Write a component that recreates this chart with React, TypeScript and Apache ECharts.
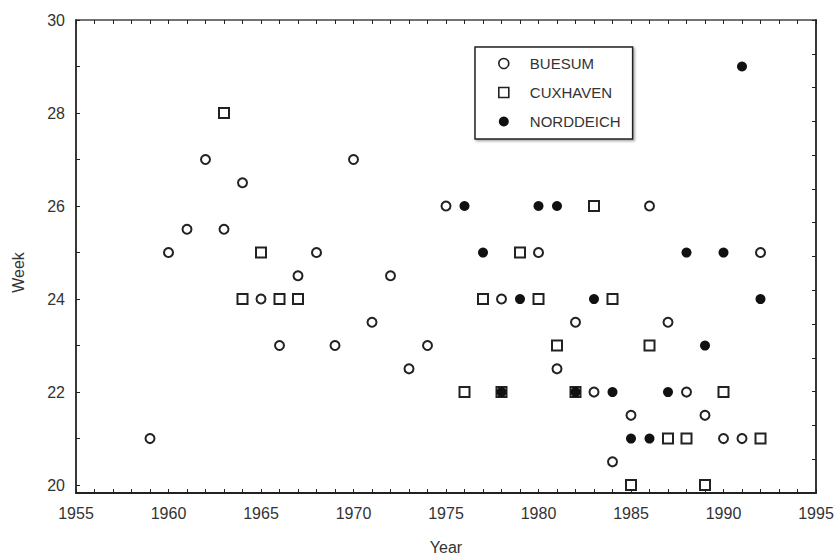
import React, { useEffect, useRef } from "react";
import * as echarts from "echarts";

const FONT = "'Liberation Sans', Arial, sans-serif";

const buesumYears = [1959, 1960, 1961, 1962, 1963, 1964, 1965, 1966, 1967, 1968, 1969, 1970, 1971, 1972, 1973, 1974, 1975, 1978, 1980, 1981, 1982, 1983, 1984, 1985, 1986, 1987, 1988, 1989, 1990, 1991, 1992];
const buesumWeeks = [21, 25, 25.5, 27, 25.5, 26.5, 24, 23, 24.5, 25, 23, 27, 23.5, 24.5, 22.5, 23, 26, 24, 25, 22.5, 23.5, 22, 20.5, 21.5, 26, 23.5, 22, 21.5, 21, 21, 25];

const cuxhavenYears = [1963, 1964, 1965, 1966, 1967, 1976, 1977, 1978, 1979, 1980, 1981, 1982, 1983, 1984, 1985, 1986, 1987, 1988, 1989, 1990, 1992];
const cuxhavenWeeks = [28, 24, 25, 24, 24, 22, 24, 22, 25, 24, 23, 22, 26, 24, 20, 23, 21, 21, 20, 22, 21];

const norddeichYears = [1976, 1977, 1978, 1979, 1980, 1981, 1982, 1983, 1984, 1985, 1986, 1987, 1988, 1989, 1990, 1991, 1992];
const norddeichWeeks = [26, 25, 22, 24, 26, 26, 22, 24, 22, 21, 21, 22, 25, 23, 25, 29, 24];

const weekTicks = [20, 21, 22, 23, 24, 25, 26, 27, 28, 29, 30];
const weekLabels = [20, 22, 24, 26, 28, 30];

const seriesNames = ["BUESUM", "CUXHAVEN", "NORDDEICH"];

const pairs = (xs: number[], ys: number[]) => xs.map((x, i) => [x, ys[i]]);

const AXIS_COLOR = "#222";
const TEXT_COLOR = "#333";

export default function App() {
  const ref = useRef<HTMLDivElement>(null);

  useEffect(() => {
    if (!ref.current) return;
    const chart = echarts.init(ref.current, undefined, { renderer: "svg" });
    const axisLine = { show: true, onZero: false, lineStyle: { color: AXIS_COLOR, width: 1.8 } };
    const tick = { show: true, inside: true, length: 4, lineStyle: { color: AXIS_COLOR, width: 1 } };
    const labelStyle = { fontFamily: FONT, fontSize: 16, color: TEXT_COLOR };

    chart.setOption({
      animation: false,
      backgroundColor: "#fff",
      grid: { left: 76, right: 22, top: 20, bottom: 62, containLabel: false },
      legend: {
        orient: "vertical",
        left: 475,
        top: 47,
        padding: [9, 12, 10, 23],
        itemGap: 14,
        itemWidth: 10,
        itemHeight: 10,
        borderColor: AXIS_COLOR,
        borderWidth: 1.5,
        backgroundColor: "#fff",
        shadowColor: "rgba(0,0,0,0.35)",
        shadowBlur: 2,
        shadowOffsetX: 1.5,
        shadowOffsetY: 1.5,
        selectedMode: false,
        textStyle: { ...labelStyle, fontSize: 15, lineHeight: 14, padding: [0, 0, 0, 16] },
        data: [
          { name: seriesNames[0], icon: "circle", itemStyle: { color: "#fff", borderColor: AXIS_COLOR, borderWidth: 1.6 } },
          { name: seriesNames[1], icon: "rect", itemStyle: { color: "#fff", borderColor: AXIS_COLOR, borderWidth: 1.6 } },
          { name: seriesNames[2], icon: "circle", itemStyle: { color: "#111", borderColor: "#111", borderWidth: 0 } },
        ],
      },
      xAxis: [
        {
          type: "value",
          min: 1955,
          max: 1995,
          interval: 5,
          position: "bottom",
          name: "Year",
          nameLocation: "middle",
          nameGap: 46,
          nameTextStyle: labelStyle,
          axisLine,
          axisTick: tick,
          minorTick: { show: true, splitNumber: 5, length: 4, lineStyle: { color: AXIS_COLOR, width: 1 } },
          axisLabel: { ...labelStyle, margin: 12, formatter: (v: number) => String(v) },
          splitLine: { show: false },
          minorSplitLine: { show: false },
        },
        {
          type: "value",
          min: 1955,
          max: 1995,
          interval: 5,
          position: "top",
          axisLine: { ...axisLine, lineStyle: { color: "#444", width: 1.5 } },
          axisTick: tick,
          minorTick: { show: true, splitNumber: 5, length: 4, lineStyle: { color: AXIS_COLOR, width: 1 } },
          axisLabel: { show: false },
          splitLine: { show: false },
        },
      ],
      yAxis: [
        {
          type: "value",
          min: 19.83,
          max: 30,
          position: "left",
          name: "Week",
          nameLocation: "middle",
          nameGap: 50,
          nameTextStyle: { ...labelStyle, padding: [0, 32, 0, 0] },
          axisLine,
          axisTick: { ...tick, customValues: weekTicks },
          axisLabel: { ...labelStyle, margin: 11, customValues: weekLabels },
          splitLine: { show: false },
        },
        {
          type: "value",
          min: 0,
          max: 14,
          interval: 1,
          position: "right",
          axisLine,
          axisTick: tick,
          axisLabel: { show: false },
          splitLine: { show: false },
        },
      ],
      series: [
        {
          name: seriesNames[0],
          type: "scatter",
          symbol: "circle",
          symbolSize: 9,
          itemStyle: { color: "#fff", borderColor: AXIS_COLOR, borderWidth: 2, opacity: 1 },
          data: pairs(buesumYears, buesumWeeks),
        },
        {
          name: seriesNames[1],
          type: "scatter",
          symbol: "rect",
          symbolSize: 10,
          itemStyle: { color: "#fff", borderColor: AXIS_COLOR, borderWidth: 2, opacity: 1 },
          data: pairs(cuxhavenYears, cuxhavenWeeks),
        },
        {
          name: seriesNames[2],
          type: "scatter",
          symbol: "circle",
          symbolSize: 10,
          itemStyle: { color: "#111", opacity: 1 },
          data: pairs(norddeichYears, norddeichWeeks),
        },
      ],
    });
    return () => chart.dispose();
  }, []);

  return (
    <div
      ref={ref}
      style={{ position: "fixed", left: 0, top: 0, width: 838, height: 560, background: "#fff" }}
    />
  );
}
